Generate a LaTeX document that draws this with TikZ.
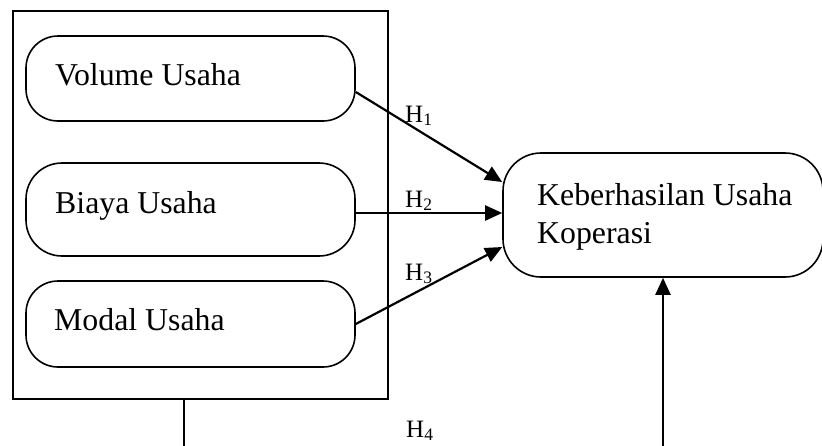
\documentclass[tikz,border=0pt]{standalone}
\usepackage{fontspec}
\setmainfont{Liberation Serif}
\usetikzlibrary{arrows.meta,calc}
\begin{document}
\begin{tikzpicture}[x=1pt,y=-1pt,
  varbox/.style={draw,line width=1.6pt,inner sep=0pt},
  lbl/.style={anchor=base west,inner sep=0pt,font=\fontsize{31.8}{38}\selectfont,align=left},
  hlbl/.style={anchor=base west,inner sep=0pt,font=\fontsize{25}{30}\selectfont},
  conn/.style={line width=2.2pt,-{Triangle[length=17pt,width=15pt]}},
  plain/.style={line width=1.8pt}]
\clip (0,0) rectangle (822,445);
% outer frame
\node[draw,line width=1.8pt,inner sep=0pt,minimum width=375pt,minimum height=388pt] (outer) at (200.5,205) {};
% variable boxes
\node[varbox,rounded corners=32pt,minimum width=329pt,minimum height=85pt] (vol) at (190.5,78.5) {};
\node[varbox,rounded corners=36pt,minimum width=329pt,minimum height=93pt] (bia) at (190.5,209.5) {};
\node[varbox,rounded corners=32pt,minimum width=329pt,minimum height=86pt] (mod) at (190.5,324) {};
\node[varbox,rounded corners=38pt,minimum width=320pt,minimum height=124pt] (tgt) at (663,215) {};
% texts
\node[lbl] (tvol) at (55,85) {Volume Usaha};
\node[lbl] (tbia) at (55,213) {Biaya Usaha};
\node[lbl] (tmod) at (54,330) {Modal Usaha};
\node[lbl] (ttgt) at (537,243) {Keberhasilan Usaha\\Koperasi};
% connectors
\draw[conn] ($(vol.east)+(0,13.5)$) -- ($(tgt.west)+(0,-33)$);
\draw[conn] ($(bia.east)+(0,3.5)$) -- ($(tgt.west)+(0,-2)$);
\draw[conn] (mod.east) -- ($(tgt.west)+(0,32)$);
\coordinate (lb) at (184,446);
\coordinate (rb) at (663,446);
\draw[plain] (outer.south -| lb) -- (lb);
\draw[conn] (rb) -- (tgt.south);
% hypothesis labels
\node[hlbl] (h1) at (405,122) {H\textsubscript{1}};
\node[hlbl] (h2) at (405,207) {H\textsubscript{2}};
\node[hlbl] (h3) at (405,280) {H\textsubscript{3}};
\node[hlbl] (h4) at (406,437) {H\textsubscript{4}};
\end{tikzpicture}
\end{document}
